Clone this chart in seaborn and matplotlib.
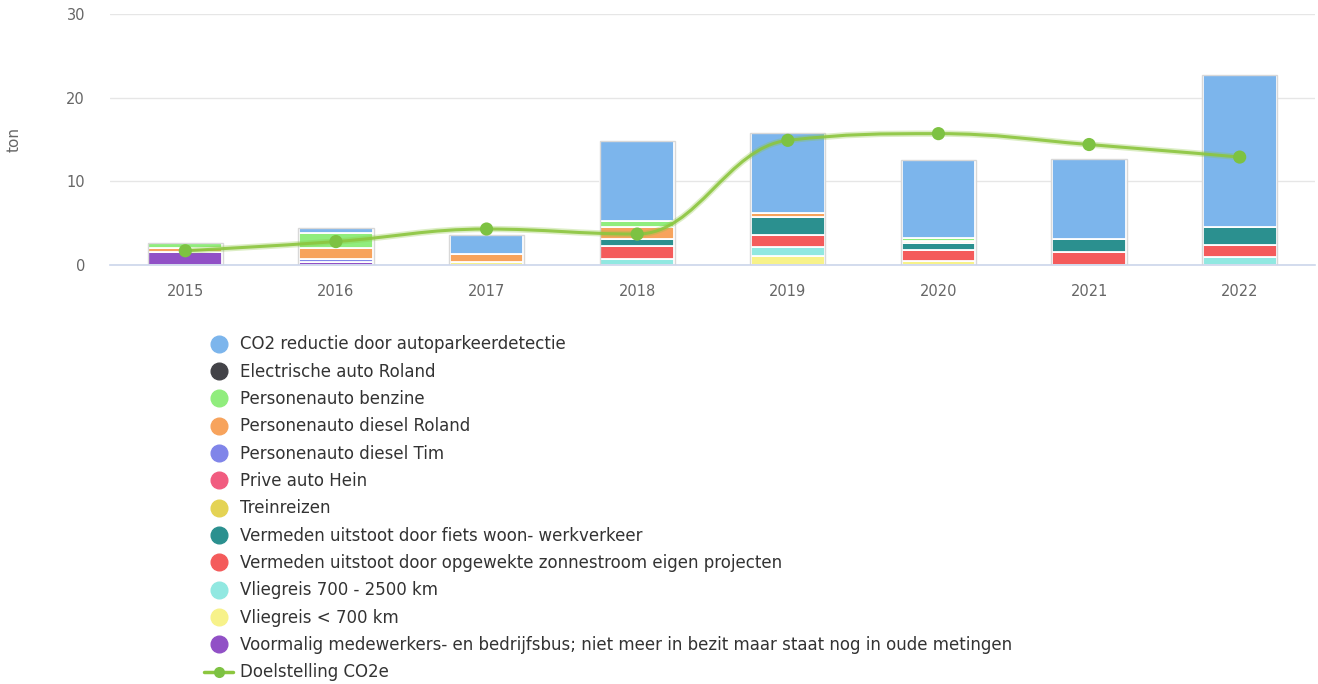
import matplotlib
matplotlib.use("Agg")
import matplotlib.pyplot as plt
import seaborn as sns
import numpy as np
from matplotlib.path import Path
from matplotlib.patches import PathPatch
from matplotlib.lines import Line2D

# Data
years = ["2015", "2016", "2017", "2018", "2019", "2020", "2021", "2022"]

series_names = [
    "CO2 reductie door autoparkeerdetectie",
    "Electrische auto Roland",
    "Personenauto benzine",
    "Personenauto diesel Roland",
    "Personenauto diesel Tim",
    "Prive auto Hein",
    "Treinreizen",
    "Vermeden uitstoot door fiets woon- werkverkeer",
    "Vermeden uitstoot door opgewekte zonnestroom eigen projecten",
    "Vliegreis 700 - 2500 km",
    "Vliegreis < 700 km",
    "Voormalig medewerkers- en bedrijfsbus; niet meer in bezit maar staat nog in oude metingen",
]
series_colors = ["#7cb5ec", "#434348", "#90ed7d", "#f7a35c", "#8085e9", "#f15c80",
                 "#e4d354", "#2b908f", "#f45b5b", "#91e8e1", "#f7f28a", "#9150c6"]

parkeer = [0, 0.6, 2.3, 9.6, 9.6, 9.4, 9.6, 18.2]
elektrisch = [0, 0, 0, 0, 0, 0, 0, 0]
benzine = [0.6, 1.8, 0, 0.6, 0, 0.3, 0, 0]
diesel_roland = [0.5, 1.3, 1.0, 1.5, 0.5, 0.3, 0, 0]
diesel_tim = [0, 0.3, 0, 0, 0, 0, 0, 0]
prive_hein = [0, 0, 0, 0, 0, 0, 0, 0]
trein = [0, 0, 0, 0, 0, 0, 0, 0]
fiets = [0, 0, 0, 0.8, 2.1, 0.8, 1.6, 2.1]
zonnestroom = [0, 0, 0, 1.6, 1.4, 1.3, 1.5, 1.5]
vlieg_lang = [0, 0, 0, 0.7, 1.1, 0, 0, 0.9]
vlieg_kort = [0, 0, 0.3, 0, 1.1, 0.5, 0, 0]
bus = [1.5, 0.4, 0, 0, 0, 0, 0, 0]

series_values = [parkeer, elektrisch, benzine, diesel_roland, diesel_tim, prive_hein,
                 trein, fiets, zonnestroom, vlieg_lang, vlieg_kort, bus]

doelstelling = [1.7, 2.8, 4.3, 3.7, 14.9, 15.7, 14.4, 12.9]
line_color = "#8cc63f"
text_color = "#666666"


def spline_path(xs, ys, smoothing=1.5):
    # highcharts-like spline with bezier control points
    n = len(xs)
    verts = [(xs[0], ys[0])]
    codes = [Path.MOVETO]
    right = [(xs[i], ys[i]) for i in range(n)]
    left = [(xs[i], ys[i]) for i in range(n)]
    denom = smoothing + 1
    for i in range(1, n - 1):
        px, py = xs[i], ys[i]
        lx, ly = xs[i - 1], ys[i - 1]
        nx, ny = xs[i + 1], ys[i + 1]
        lcx = (smoothing * px + lx) / denom
        lcy = (smoothing * py + ly) / denom
        rcx = (smoothing * px + nx) / denom
        rcy = (smoothing * py + ny) / denom
        corr = 0
        if rcx != lcx:
            corr = (rcy - lcy) * (rcx - px) / (rcx - lcx) + py - rcy
        lcy += corr
        rcy += corr
        if lcy > ly and lcy > py:
            lcy = max(ly, py)
            rcy = 2 * py - lcy
        elif lcy < ly and lcy < py:
            lcy = min(ly, py)
            rcy = 2 * py - lcy
        if rcy > ny and rcy > py:
            rcy = max(ny, py)
            lcy = 2 * py - rcy
        elif rcy < ny and rcy < py:
            rcy = min(ny, py)
            lcy = 2 * py - rcy
        left[i] = (lcx, lcy)
        right[i] = (rcx, rcy)
    for i in range(1, n):
        verts += [right[i - 1], left[i], (xs[i], ys[i])]
        codes += [Path.CURVE4] * 3
    return Path(verts, codes)


sns.set_style("white")
plt.rcParams["font.family"] = ["DejaVu Sans"]

fig = plt.figure(figsize=(13.18, 6.84), dpi=100)
ax = fig.add_axes([110 / 1318, 1 - 265 / 684, 1205 / 1318, 251 / 684])

x = np.arange(len(years))
bottom = np.zeros(len(years))
# stack: last legend item at the bottom
for name, vals, col in reversed(list(zip(series_names, series_values, series_colors))):
    vals = np.array(vals, dtype=float)
    ax.bar(x, vals, bottom=bottom, width=0.49, color=col, edgecolor="white",
           linewidth=1.3, zorder=2)
    bottom += vals

# outline of the whole stack
ax.bar(x, bottom, width=0.5, fill=False, edgecolor="#d8d8d8", linewidth=1.0, zorder=2.5)

path = spline_path(list(x.astype(float)), doelstelling)
ax.add_patch(PathPatch(path, facecolor="none", edgecolor=line_color, linewidth=4.5,
                       alpha=0.3, zorder=3))
ax.add_patch(PathPatch(path, facecolor="none", edgecolor=line_color, linewidth=2.2,
                       alpha=0.9, zorder=3.1))
sns.scatterplot(x=x, y=doelstelling, ax=ax, color="#7dc242", s=90, edgecolor="none",
                zorder=4, legend=False)

ax.set_xlim(-0.5, 7.5)
ax.set_ylim(0, 30)
ax.set_yticks([0, 10, 20, 30])
ax.set_xticks(x)
ax.set_xticklabels(years)
ax.grid(axis="y", color="#e6e6e6", linewidth=1, zorder=0)
ax.set_axisbelow(True)
for s in ["top", "right", "left"]:
    ax.spines[s].set_visible(False)
ax.spines["bottom"].set_color("#ccd6eb")
ax.spines["bottom"].set_linewidth(1.2)
ax.tick_params(axis="both", length=0, labelsize=10.5, labelcolor=text_color)
ax.tick_params(axis="x", pad=14)
ax.tick_params(axis="y", pad=18)
ax.set_ylabel("ton", fontsize=11, color=text_color, labelpad=32)

handles = [Line2D([], [], marker="o", linestyle="", markersize=12, color=c)
           for c in series_colors]
handles.append(Line2D([], [], marker="o", linestyle="-", markersize=8, linewidth=2.5,
                      color=line_color, markerfacecolor="#7dc242", markeredgecolor="none"))
labels = series_names + ["Doelstelling CO2e"]
fig.legend(handles, labels, loc="upper left", bbox_to_anchor=(196 / 1318, 1 - 327 / 684),
           frameon=False, fontsize=12, labelspacing=0.56, handlelength=1.7,
           handletextpad=0.45, borderpad=0, labelcolor="#333333")

fig.savefig("out.png", dpi=100)
